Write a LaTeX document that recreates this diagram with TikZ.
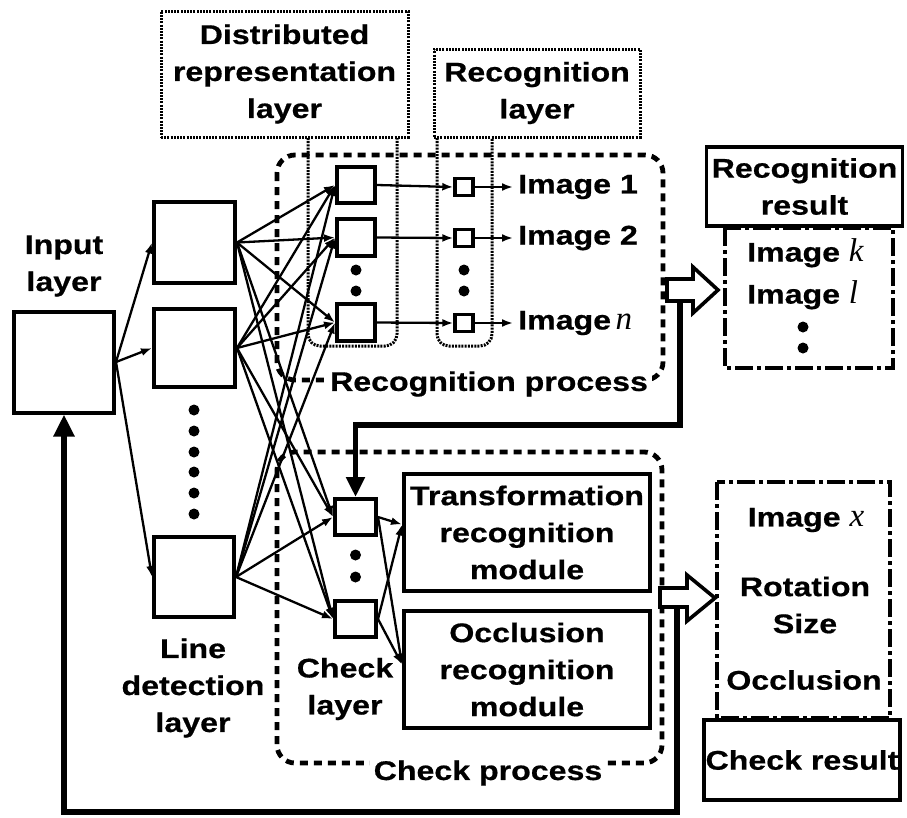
\documentclass[tikz,border=0pt]{standalone}
\usepackage{fontspec}
\setmainfont{Liberation Sans}[FakeStretch=1.19, FakeBold=0.6]
\newfontfamily\varfont{Liberation Serif}
\usetikzlibrary{arrows.meta,calc}

\begin{document}
\begin{tikzpicture}[x=1pt,y=-1pt,
  cell/.style={draw, line width=4pt, fill=white, inner sep=0pt},
  lbl/.style={font=\fontsize{27}{37}\selectfont\bfseries, align=center, inner sep=0pt},
  conn/.style={line width=2.3pt, -{Latex[length=11pt,width=8pt]}},
  dotline/.style={line width=3pt, dash pattern=on 2pt off 1.2pt},
  dashline/.style={line width=4.8pt, dash pattern=on 8pt off 6pt},
  dashdotline/.style={line width=4.8pt, dash pattern=on 18pt off 4pt on 4pt off 4pt},
  feedback/.style={line width=5.5pt, line join=miter},
  hollow/.style={line width=3.6pt, fill=white, line join=miter},
  vdot/.style={fill=black}
]
\fill[white] (0,0) rectangle (907,817);
\useasboundingbox (0,0) rectangle (907,817);

% --- process frames ---
\draw[dashline, rounded corners=18pt] (277,155) rectangle (663,380);
\draw[dashline, rounded corners=18pt] (277,452) rectangle (662,763);

% --- layer columns (dotted) ---
\draw[dotline, rounded corners=12pt] (308,138) -- (308,346) -- (397,346) -- (397,138);
\draw[dotline, rounded corners=12pt] (437,138) -- (437,346) -- (492,346) -- (492,138);

% --- layer captions in dotted boxes ---
\node[lbl, draw, dotline, fill=white, minimum width=247, minimum height=126] (drlab) at (284.5,74)
  {Distributed\\representation\\layer};
\node[lbl, draw, dotline, fill=white, minimum width=206, minimum height=88] (rclab) at (537,93)
  {Recognition\\layer};

% --- process captions ---
\node[lbl, fill=white, inner xsep=4pt, inner ysep=3pt] (rproc) at (489,384) {Recognition process};
\node[lbl, fill=white, inner xsep=4pt, inner ysep=3pt] (cproc) at (488,773) {Check process};

% --- input layer ---
\node[cell, minimum width=100, minimum height=101] (inp) at (64,362) {};
\node[lbl] (inplab) at (64,266) {Input\\layer};

% --- line detection layer ---
\node[cell, minimum width=81, minimum height=81] (ld1) at (194.5,242.5) {};
\node[cell, minimum width=81, minimum height=78] (ld2) at (194.5,348) {};
\node[cell, minimum width=80, minimum height=80] (ld3) at (194,577) {};
\node[lbl] (ldlab) at (193,688) {Line\\detection\\layer};
\foreach \yy in {410,431,452,472,493,514} \fill[vdot] (194,\yy) circle (5.5pt);

% --- distributed representation cells ---
\node[cell, minimum width=38, minimum height=36] (dr1) at (356,185) {};
\node[cell, minimum width=38, minimum height=37] (dr2) at (356,237.5) {};
\node[cell, minimum width=38, minimum height=37] (drn) at (356,322.5) {};
\foreach \yy in {270,291} \fill[vdot] (356,\yy) circle (5.5pt);

% --- recognition cells ---
\node[cell, line width=3.4pt, minimum width=18, minimum height=17] (rc1) at (464,187) {};
\node[cell, line width=3.4pt, minimum width=18, minimum height=17] (rc2) at (464,238) {};
\node[cell, line width=3.4pt, minimum width=18, minimum height=17] (rcn) at (464,323) {};
\foreach \yy in {270,291} \fill[vdot] (464,\yy) circle (5.5pt);

% --- check layer cells ---
\node[cell, minimum width=41, minimum height=36] (ck1) at (355.5,517) {};
\node[cell, minimum width=41, minimum height=36] (ck2) at (355.5,619) {};
\foreach \yy in {555,577} \fill[vdot] (355.5,\yy) circle (5.5pt);
\node[lbl] (cklab) at (345,689) {Check\\layer};

% --- recognition modules ---
\node[cell, lbl, draw, line width=4pt, minimum width=246, minimum height=117] (tr) at (527,532.5)
  {Transformation\\recognition\\module};
\node[cell, lbl, draw, line width=4pt, minimum width=246, minimum height=117] (oc) at (527,669.5)
  {Occlusion\\recognition\\module};

% --- image outputs ---
\node[lbl, anchor=west] (img1) at (518,187) {Image 1};
\node[lbl, anchor=west] (img2) at (518,238) {Image 2};
\node[lbl, anchor=west] (imgn) at (518,323) {Image\,{\varfont\mdseries\itshape\fontsize{33}{37}\selectfont n}};

% --- connections: input -> line detection ---
\foreach \t in {ld1,ld2,ld3} \draw[conn] (inp.east) -- (\t.west);

% --- connections: line detection -> representation / check cells ---
\foreach \s in {ld1,ld2,ld3}
  \foreach \t in {dr1,dr2,drn,ck1,ck2}
    \draw[conn] (\s.east) -- (\t.west);

% --- representation -> recognition -> images ---
\foreach \a/\b/\c in {dr1/rc1/img1,dr2/rc2/img2,drn/rcn/imgn} {
  \draw[conn] (\a.east) -- (\b.west);
  \draw[conn, shorten >=5pt] (\b.east) -- (\c.west);
}

% --- check cells -> modules ---
\coordinate (trin) at ($(tr.west)+(0,-8)$);
\coordinate (ocin) at ($(oc.west)+(0,-5)$);
\foreach \s in {ck1,ck2}
  \foreach \t in {trin,ocin}
    \draw[conn] (\s.east) -- (\t);

% --- recognition result ---
\draw[dashdotline] (725,228) rectangle (893,368);
\node[cell, lbl, draw, line width=3.4pt, minimum width=196, minimum height=79] (recres) at (804.5,186.5)
  {Recognition\\result};
\node[lbl, anchor=west] (imgk) at (747,253) {Image {\varfont\mdseries\itshape\fontsize{33}{37}\selectfont k}};
\node[lbl, anchor=west] (imgl) at (747,295) {Image {\varfont\mdseries\itshape\fontsize{33}{37}\selectfont l}};
\foreach \yy in {327,348} \fill[vdot] (803,\yy) circle (5.5pt);

% --- check result ---
\draw[dashdotline] (717,482) rectangle (890,718);
\node[cell, lbl, draw, line width=3.4pt, minimum width=196, minimum height=80] (chkres) at (802,760)
  {Check result};
\node[lbl] (imgx) at (806,520) {Image {\varfont\mdseries\itshape\fontsize{33}{37}\selectfont x}};
\node[lbl] (rot) at (805,605) {Rotation\\Size};
\node[lbl] (occ) at (804,680) {Occlusion};

% --- hollow result arrows ---
\draw[hollow] (667,279) -- (693,279) -- (693,267) -- (718,290) -- (693,313) -- (693,301) -- (667,301) -- cycle;
\draw[hollow] (660,588) -- (687,588) -- (687,575) -- (715,598) -- (687,621) -- (687,607) -- (660,607) -- cycle;

% --- feedback lines ---
\coordinate (fb1) at (680,302);
\coordinate (fb1t) at (680,425);
\draw[feedback, -{Triangle[length=20pt,width=18pt]}] (fb1) -- (fb1t) -| (ck1.north);
\coordinate (fb2) at (677,608);
\coordinate (fb2b) at (677,812);
\draw[feedback, -{Triangle[length=22pt,width=20pt]}] (fb2) -- (fb2b) -| (inp.south);
\end{tikzpicture}
\end{document}
